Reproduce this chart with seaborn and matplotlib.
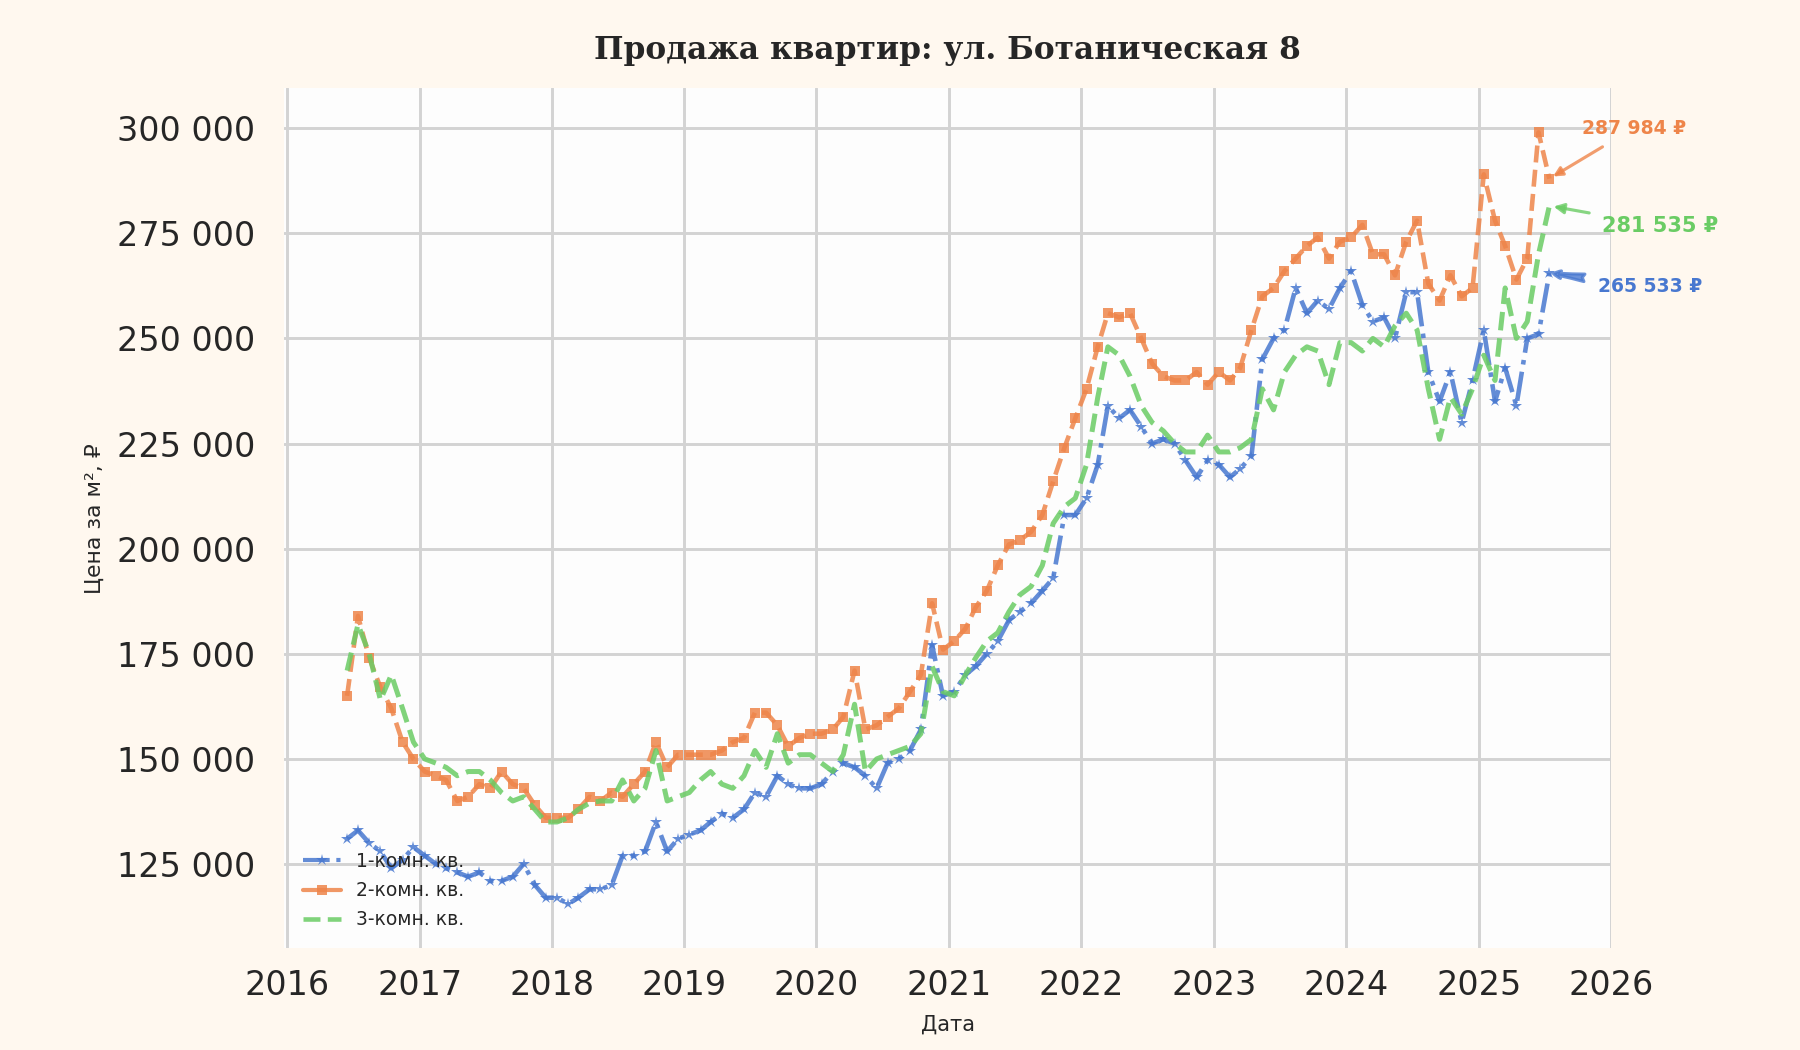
import matplotlib
matplotlib.use("Agg")
import matplotlib.pyplot as plt
import matplotlib.dates as mdates
from matplotlib.lines import Line2D
from matplotlib.ticker import FuncFormatter, MultipleLocator
import seaborn as sns
import pandas as pd

# ---------------- data (monthly, Jun 2016 – Jul 2025), price per m², thousand ₽ ----------------
dates = pd.date_range("2016-06-01", "2025-07-01", freq="MS") + pd.Timedelta(days=14)

room1 = [
    131, 133, 130, 128, 124, 126, 129,                                  # 2016
    127, 125, 124, 123, 122, 123, 121, 121, 122, 125, 120, 117,         # 2017
    117, 115.5, 117, 119, 119, 120, 127, 127, 128, 135, 128, 131,       # 2018
    132, 133, 135, 137, 136, 138, 142, 141, 146, 144, 143, 143,         # 2019
    144, 147, 149, 148, 146, 143, 149, 150, 152, 157, 177, 165,         # 2020
    166, 170, 172, 175, 178, 183, 185, 187, 190, 193, 208, 208,         # 2021
    212, 220, 234, 231, 233, 229, 225, 226, 225, 221, 217, 221,         # 2022
    220, 217, 219, 222, 245, 250, 252, 262, 256, 259, 257, 262,         # 2023
    266, 258, 254, 255, 250, 261, 261, 242, 235, 242, 230, 240,         # 2024
    252, 235, 243, 234, 250, 251, 265.533,                              # 2025
]
room2 = [
    165, 184, 174, 167, 162, 154, 150,
    147, 146, 145, 140, 141, 144, 143, 147, 144, 143, 139, 136,
    136, 136, 138, 141, 140, 142, 141, 144, 147, 154, 148, 151,
    151, 151, 151, 152, 154, 155, 161, 161, 158, 153, 155, 156,
    156, 157, 160, 171, 157, 158, 160, 162, 166, 170, 187, 176,
    178, 181, 186, 190, 196, 201, 202, 204, 208, 216, 224, 231,
    238, 248, 256, 255, 256, 250, 244, 241, 240, 240, 242, 239,
    242, 240, 243, 252, 260, 262, 266, 269, 272, 274, 269, 273,
    274, 277, 270, 270, 265, 273, 278, 263, 259, 265, 260, 262,
    289, 278, 272, 264, 269, 299, 287.984,
]
room3 = [
    171, 182, 175, 164, 170, 162, 154,
    150, 149, 148, 146, 147, 147, 145, 142, 140, 141, 138, 135,
    135, 136, 138, 139.5, 140, 140, 145, 140, 143, 152, 140, 141,
    142, 145, 147, 144, 143, 146, 152, 148, 156, 149, 151, 151,
    149, 147, 151, 163, 147, 150, 151, 152, 153, 156, 172, 166,
    165, 170, 174, 178, 180, 185, 189, 191, 196, 206, 210, 212,
    220, 236, 248, 246, 241, 234, 230, 228, 225, 223, 223, 227,
    223, 223, 224, 226, 238, 233, 242, 246, 248, 247, 239, 249,
    249, 247, 250, 248, 253, 256, 252, 238, 226, 236, 232, 238,
    246, 240, 262, 250, 254, 270, 281.535,
]
series_names = ["1-комн. кв.", "2-комн. кв.", "3-комн. кв."]
last_labels = ["265 533 ₽", "287 984 ₽", "281 535 ₽"]

title = "Продажа квартир: ул. Ботаническая 8"
xlabel = "Дата"
ylabel = "Цена за м², ₽"

# ---------------- style ----------------
sns.set_theme(style="whitegrid", context="talk")
plt.rcParams["font.family"] = ["DejaVu Sans"]

FIG_BG = "#FFF8EF"
colors = sns.color_palette("muted", 3)
blue, orange, green = colors[0], colors[1], colors[2]

fig, ax = plt.subplots(figsize=(12, 7), dpi=150)
fig.patch.set_facecolor(FIG_BG)
ax.set_facecolor("#FDFDFD")
fig.subplots_adjust(left=0.158, right=0.895, top=0.916, bottom=0.097)

df = pd.DataFrame({
    "date": dates,
    series_names[0]: [v * 1000 for v in room1],
    series_names[1]: [v * 1000 for v in room2],
    series_names[2]: [v * 1000 for v in room3],
})

sns.lineplot(data=df, x="date", y=series_names[0], ax=ax, color=blue, linestyle="-.",
             marker="*", markersize=6, markeredgewidth=0, linewidth=2.2, alpha=0.85)
sns.lineplot(data=df, x="date", y=series_names[1], ax=ax, color=orange, linestyle="--",
             marker="s", markersize=5, markeredgewidth=0, linewidth=2.2, alpha=0.85)
sns.lineplot(data=df, x="date", y=series_names[2], ax=ax, color=green, linestyle="--",
             linewidth=2.4, alpha=0.85)

# axes formatting
ax.set_xlim(pd.Timestamp("2015-12-25"), pd.Timestamp("2026-01-01"))
ax.set_ylim(105000, 309500)
ax.xaxis.set_major_locator(mdates.YearLocator())
ax.xaxis.set_major_formatter(mdates.DateFormatter("%Y"))
ax.yaxis.set_major_locator(MultipleLocator(25000))
ax.yaxis.set_major_formatter(FuncFormatter(lambda v, p: f"{v:,.0f}".replace(",", " ")))
ax.tick_params(axis="both", labelsize=16, length=0)
ax.tick_params(axis="y", pad=14)
ax.tick_params(axis="x", pad=10)
ax.grid(True, color="#d3d3d3", linewidth=1.4)
for s in ax.spines.values():
    s.set_visible(False)

ax.set_xlabel(xlabel, fontsize=10, labelpad=6)
ax.set_ylabel(ylabel, fontsize=10.5, labelpad=6)
ax.set_title(title, fontsize=15, fontweight="bold", family="DejaVu Serif", pad=14, color="#262626")

# legend
handles = [
    Line2D([0], [0], color=blue, linestyle="-.", marker="*", markersize=6, markeredgewidth=0, linewidth=2, alpha=0.85),
    Line2D([0], [0], color=orange, linestyle="-", marker="s", markersize=4.5, markeredgewidth=0, linewidth=2, alpha=0.85),
    Line2D([0], [0], color=green, linestyle="--", linewidth=2.2, alpha=0.85),
]
ax.legend(handles, series_names, loc="lower left", fontsize=9, frameon=False,
          handlelength=2.0, labelspacing=0.55, borderaxespad=0.6)

# annotations of last values
last_date = dates[-1]
ann = [
    (room2[-1] * 1000, last_labels[1], orange, pd.Timestamp("2025-10-12"), 300000, 9, "-|>"),
    (room3[-1] * 1000, last_labels[2], green, pd.Timestamp("2025-12-08"), 276800, 10, "-|>"),
    (room1[-1] * 1000, last_labels[0], blue, pd.Timestamp("2025-11-25"), 262300, 9, "fancy"),
]
for yv, txt, col, tx, ty, fs, style in ann:
    ax.annotate(txt, xy=(last_date, yv), xytext=(tx, ty), textcoords="data",
                fontsize=fs, fontweight="bold", color=col, ha="left", va="center",
                annotation_clip=False,
                arrowprops=dict(arrowstyle=style, color=col, lw=1.5, alpha=0.8,
                                shrinkA=4, shrinkB=2))

fig.savefig("out.png", dpi=150, facecolor=FIG_BG)
